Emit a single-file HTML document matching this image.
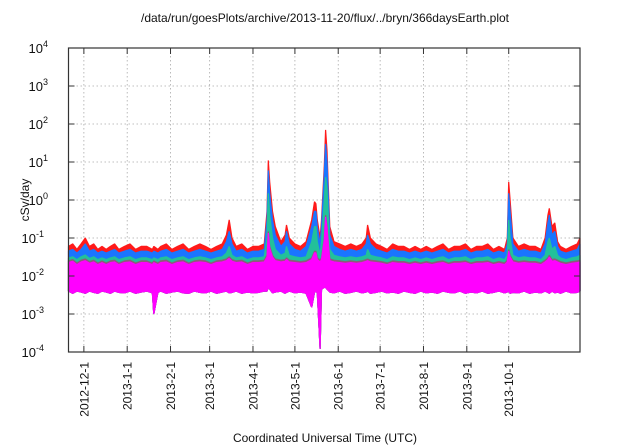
<!DOCTYPE html>
<html><head><meta charset="utf-8"><style>
html,body{margin:0;padding:0;background:#fff;}
svg{display:block;font-family:"Liberation Sans",sans-serif;}
</style></head><body>
<svg id="chart" width="640" height="448" viewBox="0 0 640 448">
<text x="325" y="22" font-size="12" text-anchor="middle" fill="#111">/data/run/goesPlots/archive/2013-11-20/flux/../bryn/366daysEarth.plot</text>
<text transform="translate(29,200) rotate(-90)" font-size="12" text-anchor="middle" fill="#111">cSv/day</text>
<text x="325" y="442" font-size="12" text-anchor="middle" fill="#111">Coordinated Universal Time (UTC)</text>
<g id="grid"></g><g id="series"></g><g id="axes"></g>
</svg>
<script>
const days=[0,3,6,9,12,15,18,21,24,27,30,33,36,40,44,48,52,56,60,61,64,66,70,74,78,82,86,90,94,98,102,106,110,113,115,117,120,124,128,132,136,140,142,143,144,146,148,152,155,156,158,162,166,170,174,176,177,178,180,181,183,184,185,187,190,194,198,202,206,210,213,214,216,220,224,228,232,236,240,244,248,252,256,260,264,268,272,276,280,284,288,292,296,300,304,308,312,314,315,316,318,322,326,330,334,338,341,343,344,346,348,350,352,356,360,364,366];
const redVals=[.06,.07,.05,.07,.1,.06,.07,.05,.06,.05,.06,.07,.05,.06,.07,.05,.06,.06,.05,.06,.05,.06,.07,.05,.06,.07,.05,.06,.07,.06,.05,.06,.07,.12,.3,.1,.06,.07,.05,.06,.06,.07,.5,11,3,.5,.2,.08,.12,.22,.1,.07,.06,.08,.3,.9,.8,.3,.1,.3,8,70,20,.2,.08,.07,.06,.07,.06,.07,.1,.22,.1,.07,.06,.05,.07,.06,.06,.05,.06,.05,.06,.05,.06,.07,.05,.06,.06,.07,.05,.06,.06,.07,.05,.06,.05,.1,3,1,.1,.06,.07,.06,.06,.05,.1,.4,.6,.2,.25,.08,.06,.05,.06,.07,.1];
const blueVals=[.045,.05,.04,.05,.07,.045,.05,.04,.045,.04,.045,.05,.04,.045,.05,.04,.045,.045,.04,.045,.04,.045,.05,.04,.045,.05,.04,.045,.05,.045,.04,.045,.05,.08,.15,.07,.045,.05,.04,.045,.045,.05,.3,6,1.5,.3,.12,.06,.08,.15,.07,.05,.045,.06,.2,.5,.5,.2,.07,.2,5,30,10,.12,.06,.05,.045,.05,.045,.05,.07,.12,.07,.05,.045,.04,.05,.045,.045,.04,.045,.04,.045,.04,.045,.05,.04,.045,.045,.05,.04,.045,.045,.05,.04,.045,.04,.07,1.5,.5,.07,.045,.05,.045,.045,.04,.07,.25,.4,.12,.15,.06,.045,.04,.045,.05,.07];
const greenVals=[.03,.032,.027,.032,.036,.029,.032,.027,.03,.027,.03,.032,.027,.03,.032,.027,.03,.03,.027,.03,.027,.03,.032,.027,.03,.032,.027,.03,.032,.03,.027,.03,.032,.04,.06,.035,.03,.032,.027,.03,.03,.032,.1,1.5,.4,.1,.05,.035,.04,.06,.035,.032,.03,.032,.08,.2,.2,.08,.035,.08,1,4,2,.05,.035,.032,.03,.032,.03,.032,.035,.05,.035,.032,.03,.027,.032,.03,.03,.027,.03,.027,.03,.027,.03,.032,.027,.03,.03,.032,.027,.03,.03,.032,.027,.03,.027,.035,.3,.1,.035,.03,.032,.03,.03,.027,.035,.08,.1,.05,.06,.035,.03,.027,.03,.032,.035];
const magTopVals=[.025,.027,.022,.026,.028,.024,.026,.022,.025,.022,.025,.026,.022,.025,.026,.022,.025,.025,.022,.025,.022,.025,.026,.022,.025,.026,.022,.025,.026,.025,.022,.025,.026,.028,.032,.027,.025,.026,.022,.025,.025,.026,.035,.15,.06,.035,.028,.026,.027,.03,.026,.025,.024,.025,.03,.045,.045,.03,.026,.03,.1,.4,.2,.028,.026,.025,.024,.025,.024,.025,.027,.028,.026,.025,.024,.022,.025,.024,.024,.022,.024,.022,.024,.022,.024,.025,.022,.024,.024,.025,.022,.024,.024,.025,.022,.024,.022,.026,.05,.035,.026,.024,.025,.024,.024,.022,.026,.03,.035,.027,.028,.026,.024,.022,.024,.025,.026];
const magBotVals=[.004,.0035,.004,.0038,.0035,.004,.0037,.0035,.004,.0038,.0035,.004,.0037,.0036,.004,.0035,.0038,.004,.0036,.001,.0037,.004,.0035,.0038,.004,.0036,.0035,.004,.0037,.0036,.004,.0035,.0038,.004,.0036,.0037,.004,.0035,.0038,.0036,.0037,.004,.004,.005,.0045,.0036,.0038,.004,.0035,.0037,.004,.0036,.0038,.0035,.0015,.0037,.004,.0036,.00012,.0045,.005,.005,.0045,.0038,.0036,.004,.0035,.0037,.004,.0036,.0038,.004,.0035,.0037,.004,.0036,.0038,.0035,.004,.0037,.0035,.004,.0036,.0038,.0035,.004,.0037,.0036,.004,.0035,.0038,.0036,.004,.0035,.0037,.004,.0036,.0038,.004,.0035,.0037,.0036,.004,.0035,.0038,.0036,.004,.0037,.0035,.004,.0036,.0038,.0035,.004,.0036,.0037,.004];
const yTickExps=[4,3,2,1,0,-1,-2,-3,-4];
const xTickDays=[11,42,73,101,132,162,193,223,254,285,315];
const xTickLabels=["2012-12-1","2013-1-1","2013-2-1","2013-3-1","2013-4-1","2013-5-1","2013-6-1","2013-7-1","2013-8-1","2013-9-1","2013-10-1"];

const L=68.5,R=580,T=48,B=352,D0=0,D1=366;
const xs=d=>L+(d-D0)/(D1-D0)*(R-L);
const ys=v=>T+(4-Math.log10(v))/8*(B-T);
const NS="http://www.w3.org/2000/svg";
function mk(tag,attrs,parent){const e=document.createElementNS(NS,tag);for(const k in attrs)e.setAttribute(k,attrs[k]);parent.appendChild(e);return e;}
const grid=document.getElementById('grid'),ser=document.getElementById('series'),axes=document.getElementById('axes');

yTickExps.forEach(p=>{
  const y=ys(Math.pow(10,p));
  if(p<4&&p>-4){const g=mk('line',{x1:L,x2:R,y1:y,y2:y,stroke:'#aaa','stroke-width':0.8,'stroke-dasharray':'1.5,2.5'},grid);
  
  }
  const t1=mk('line',{x1:L,x2:L+6,y1:y,y2:y,stroke:'#333'},axes);
  
  
  const t2=mk('line',{x1:R-6,x2:R,y1:y,y2:y,stroke:'#333'},axes);
  
  
  const tx=mk('text',{x:48-(String(p).length-1)*4,y:y+5,'font-size':13,'text-anchor':'end',fill:'#111'},axes);
  
  
  tx.textContent='10';
  const sp=mk('tspan',{dy:-6,'font-size':9},tx);sp.textContent=String(p);
});

xTickDays.forEach((d,i)=>{
  const x=xs(d);
  const g=mk('line',{x1:x,x2:x,y1:T,y2:B,stroke:'#aaa','stroke-width':0.8,'stroke-dasharray':'1.5,2.5'},grid);
  
  
  const t1=mk('line',{x1:x,x2:x,y1:B-6,y2:B,stroke:'#333'},axes);
  
  
  const t2=mk('line',{x1:x,x2:x,y1:T,y2:T+6,stroke:'#333'},axes);
  
  
  const tx=mk('text',{transform:`translate(${x+4.5},362) rotate(-90)`,'font-size':12,'text-anchor':'end',fill:'#111'},axes);
  
  
  tx.textContent=xTickLabels[i];
});

function area(top,bot,color,name){
  let d='M'+days.map((dd,i)=>xs(dd).toFixed(1)+','+ys(top[i]).toFixed(1)).join('L');
  for(let i=days.length-1;i>=0;i--)d+='L'+xs(days[i]).toFixed(1)+','+ys(bot[i]).toFixed(1);
  const p=mk('path',{d:d+'Z',fill:color,stroke:color,'stroke-width':1.2,'stroke-linejoin':'bevel'},ser);
  
  
}
area(redVals,magBotVals,'#ff1a1a','series-red');
area(blueVals,magBotVals,'#1a75ff','series-blue');
area(greenVals,magBotVals,'#22c19a','series-green');
area(magTopVals,magBotVals,'#8e5a7a','series-brown');
const magMid=magTopVals.map(v=>v*0.9);
area(magMid,magBotVals,'#ff00ff','series-magenta');

const fr=mk('rect',{x:L,y:T,width:R-L,height:B-T,fill:'none',stroke:'#333','stroke-width':1.2},axes);


</script>
</body></html>
